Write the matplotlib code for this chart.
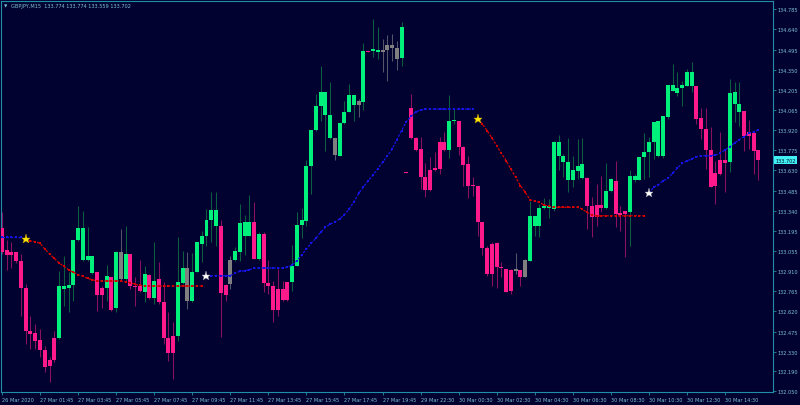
"""GBPJPY M15 candle chart with a trend-colored moving average and signal stars (MT4 look)."""

import matplotlib
matplotlib.use("Agg")
import matplotlib.pyplot as plt
import matplotlib.transforms as mtransforms
import numpy as np

SYMBOL = "GBPJPY,M15"
HEADER_OHLC = "133.774 133.774 133.559 133.702"
LAST_PRICE = 133.702

# bar index of the first candle (bar 0 = 27 Mar 01:45)
BAR_START = -8

OPENS = [
    133.215, 133.060, 133.048, 133.043, 132.983, 132.788, 132.482, 132.463,
    132.418, 132.344, 132.272, 132.430, 132.430, 132.781, 132.788, 132.809,
    133.134, 132.990, 132.990, 132.895, 132.900, 132.788, 132.788, 132.864,
    132.645, 133.043, 132.852, 133.031, 132.804, 132.804, 132.761, 132.883,
    132.714, 132.852, 132.685, 132.430, 132.446, 132.442, 132.824, 132.929,
    132.697, 132.904, 133.103, 133.158, 133.275, 133.230, 133.230, 132.809,
    132.986, 132.986, 133.048, 133.162, 133.162, 133.262, 132.995, 133.172,
    132.821, 132.804, 132.781, 132.781, 132.829, 132.833, 132.947, 133.239,
    133.270, 133.663, 133.919, 134.089, 134.029, 133.862, 133.862, 133.735,
    133.969, 134.046, 134.098, 134.125, 134.122, 134.485, 134.485, 134.475,
    134.494, 134.528, 134.528, 134.504, 134.432, 133.618, 134.077, 133.862,
    133.783, 133.585, 133.633, 133.645, 133.835, 133.835, 133.778, 133.981,
    133.986, 133.800, 133.676, 133.527, 133.520, 133.258, 133.074, 133.103,
    133.108, 132.940, 132.924, 132.919, 132.924, 132.917, 132.988, 132.983,
    133.234, 133.234, 133.361, 133.361, 133.353, 133.735, 133.688, 133.563,
    133.563, 133.628, 133.575, 133.575, 133.377, 133.382, 133.382, 133.361,
    133.484, 133.556, 133.325, 133.341, 133.334, 133.563, 133.563, 133.724,
    133.759, 133.831, 133.731, 133.731, 134.014, 134.196, 134.184, 134.220,
    134.236, 134.236, 134.236, 134.003, 133.926, 133.776, 133.611, 133.704,
    133.704, 133.688, 134.105, 134.050, 134.053, 133.903, 133.898, 133.774,
]
HIGHS = [
    133.330, 133.134, 133.115, 133.043, 133.031, 132.816, 132.589, 132.530,
    132.494, 132.375, 132.292, 132.482, 132.912, 133.019, 132.900, 133.134,
    133.377, 133.341, 133.222, 133.019, 132.900, 132.804, 132.952, 132.864,
    133.055, 133.210, 133.234, 133.031, 132.864, 132.990, 132.947, 132.888,
    133.115, 132.972, 132.829, 132.614, 132.542, 133.155, 133.055, 133.043,
    133.038, 133.115, 133.198, 133.353, 133.473, 133.477, 133.277, 132.816,
    133.019, 133.079, 133.389, 133.310, 133.454, 133.401, 133.187, 133.187,
    132.990, 132.840, 132.924, 132.840, 132.829, 133.096, 133.330, 133.358,
    133.706, 133.919, 134.177, 134.379, 134.189, 134.265, 133.862, 133.969,
    134.129, 134.248, 134.170, 134.141, 134.540, 134.485, 134.714, 134.657,
    134.571, 134.599, 134.606, 134.558, 134.690, 133.622, 134.177, 133.867,
    133.867, 133.683, 133.724, 133.759, 133.867, 133.907, 134.170, 134.069,
    133.986, 133.802, 133.735, 133.580, 133.520, 133.258, 133.091, 133.115,
    133.115, 132.972, 132.924, 132.924, 133.036, 132.917, 132.995, 133.413,
    133.305, 133.389, 133.432, 133.425, 133.842, 133.883, 133.747, 133.862,
    133.735, 133.855, 133.862, 133.580, 133.437, 133.532, 133.592, 133.683,
    133.573, 133.699, 133.373, 133.341, 133.635, 133.604, 133.728, 133.895,
    133.867, 133.974, 133.986, 134.021, 134.243, 134.392, 134.336, 134.272,
    134.356, 134.404, 134.236, 134.074, 134.074, 133.938, 133.699, 133.907,
    133.783, 134.284, 134.265, 134.261, 134.053, 133.993, 133.903, 133.774,
]
LOWS = [
    133.031, 132.917, 132.931, 132.967, 132.589, 132.387, 132.351, 132.351,
    132.292, 132.184, 132.113, 132.256, 132.423, 132.661, 132.614, 132.697,
    133.126, 132.983, 132.983, 132.888, 132.625, 132.642, 132.697, 132.625,
    132.618, 132.840, 132.840, 132.781, 132.661, 132.757, 132.685, 132.709,
    132.673, 132.673, 132.387, 132.267, 132.136, 132.410, 132.816, 132.637,
    132.685, 132.900, 132.972, 133.091, 133.119, 133.091, 132.439, 132.697,
    132.781, 132.983, 132.983, 133.024, 133.158, 132.995, 132.990, 132.761,
    132.745, 132.546, 132.589, 132.697, 132.697, 132.768, 132.947, 133.144,
    133.234, 133.461, 133.914, 133.986, 133.771, 133.855, 133.704, 133.735,
    133.962, 134.046, 133.986, 134.010, 134.064, 134.475, 134.442, 134.427,
    134.332, 134.272, 134.415, 134.349, 134.379, 133.608, 133.855, 133.771,
    133.497, 133.441, 133.484, 133.628, 133.604, 133.771, 133.716, 133.962,
    133.740, 133.520, 133.430, 133.449, 133.162, 133.024, 132.876, 132.804,
    132.786, 132.864, 132.757, 132.745, 132.888, 132.804, 132.864, 132.983,
    133.162, 133.151, 133.353, 133.287, 133.341, 133.635, 133.580, 133.477,
    133.509, 133.568, 133.568, 133.210, 133.151, 133.234, 133.330, 133.353,
    133.473, 133.222, 133.198, 133.008, 133.091, 133.545, 133.563, 133.568,
    133.580, 133.711, 133.724, 133.716, 133.998, 134.196, 134.165, 134.093,
    134.236, 134.189, 133.962, 133.855, 133.640, 133.509, 133.389, 133.597,
    133.473, 133.621, 133.974, 133.950, 133.771, 133.783, 133.604, 133.559,
]
CLOSES = [
    133.048, 133.026, 133.026, 132.979, 132.788, 132.482, 132.458, 132.410,
    132.344, 132.224, 132.227, 132.272, 132.804, 132.804, 132.809, 133.134,
    133.215, 133.215, 133.019, 133.019, 132.738, 132.738, 132.871, 132.632,
    133.043, 132.852, 133.031, 132.804, 132.797, 132.768, 132.888, 132.714,
    132.840, 132.685, 132.430, 132.320, 132.320, 132.829, 132.929, 132.697,
    132.904, 133.115, 133.158, 133.275, 133.346, 133.346, 132.752, 132.738,
    132.816, 133.053, 133.253, 133.258, 133.258, 132.995, 133.172, 132.821,
    132.800, 132.630, 132.630, 132.702, 132.702, 132.947, 133.239, 133.275,
    133.659, 133.919, 134.089, 134.189, 134.189, 134.029, 133.740, 133.969,
    134.046, 134.172, 134.170, 134.098, 134.483, 134.475, 134.499, 134.494,
    134.475, 134.494, 134.504, 134.427, 134.654, 133.611, 133.862, 133.778,
    133.580, 133.489, 133.489, 133.633, 133.640, 133.778, 133.986, 133.991,
    133.800, 133.671, 133.520, 133.520, 133.258, 133.074, 132.888, 132.888,
    132.940, 132.929, 132.761, 132.768, 132.912, 132.864, 132.864, 133.301,
    133.301, 133.361, 133.373, 133.375, 133.835, 133.835, 133.735, 133.688,
    133.635, 133.663, 133.676, 133.373, 133.294, 133.294, 133.361, 133.484,
    133.568, 133.318, 133.310, 133.318, 133.588, 133.588, 133.728, 133.759,
    133.831, 133.974, 133.981, 134.021, 134.243, 134.243, 134.220, 134.241,
    134.336, 134.336, 133.998, 133.926, 133.776, 133.513, 133.516, 133.604,
    133.681, 134.184, 134.189, 134.105, 133.874, 133.874, 133.771, 133.702,
]
# candle colour state from the indicator: u = bull, d = bear, n = neutral (grey)
STATES = [
    "dddddddd", "dddduuuu", "uuuuddud", "unudddud", "udddduun",
    "uuuuuudd", "nuuuudud", "ddddduuu", "uuuuuunu", "uuunuduu",
    "nnnnuddd", "dddddduu", "dddddddd", "ddddndnu", "uuuuuuuu",
    "uuuddddu", "uddduuuu", "uuuuuuuu", "uudddddd", "duuudddd",
]

# moving average value per bar, 8 bars per row
MA = [
    133.151, 133.151, 133.151, 133.151, 133.151, 133.139, 133.126, 133.119,
    133.108, 133.067, 133.031, 133.000, 132.967, 132.943, 132.919, 132.900,
    132.883, 132.871, 132.857, 132.847, 132.838, 132.838, 132.838, 132.838,
    132.838, 132.838, 132.831, 132.826, 132.814, 132.807, 132.804, 132.802,
    132.802, 132.802, 132.802, 132.802, 132.802, 132.802, 132.802, 132.802,
    132.802, 132.802, 132.802, 132.876, 132.876, 132.876, 132.876, 132.876,
    132.876, 132.895, 132.907, 132.912, 132.919, 132.929, 132.931, 132.931,
    132.931, 132.931, 132.931, 132.931, 132.936, 132.952, 132.983, 133.024,
    133.067, 133.108, 133.144, 133.187, 133.222, 133.246, 133.262, 133.282,
    133.313, 133.353, 133.406, 133.466, 133.512, 133.556, 133.597, 133.642,
    133.688, 133.733, 133.781, 133.850, 133.914, 133.979, 134.016, 134.050,
    134.062, 134.069, 134.069, 134.069, 134.069, 134.069, 134.069, 134.069,
    134.069, 134.069, 134.069, 134.069, 133.998, 133.962, 133.914, 133.862,
    133.807, 133.752, 133.699, 133.640, 133.580, 133.520, 133.473, 133.420,
    133.409, 133.401, 133.382, 133.373, 133.366, 133.366, 133.366, 133.366,
    133.366, 133.366, 133.353, 133.330, 133.312, 133.305, 133.305, 133.305,
    133.305, 133.305, 133.305, 133.305, 133.305, 133.305, 133.305, 133.305,
    133.466, 133.509, 133.527, 133.556, 133.573, 133.611, 133.647, 133.681,
    133.699, 133.711, 133.728, 133.735, 133.735, 133.735, 133.740, 133.754,
    133.776, 133.799, 133.826, 133.850, 133.871, 133.895, 133.907, 133.919,
]
MA_UP_RANGES = [(-8, -4), (35, 91), (128, 151)]
MA_DOWN_RANGES = [(-3, 34), (92, 127)]

# signal stars
SELL_BARS = [-3, 92]
SELL_PRICES = [133.139, 133.998]
BUY_BARS = [35, 128]
BUY_PRICES = [132.876, 133.466]

XTICK_BARS = [-8, 0, 8, 16, 24, 32, 40, 48, 56, 64, 72,
              80, 88, 96, 104, 112, 120, 128, 136, 144]
XTICK_LABELS = [
    "26 Mar 2020", "27 Mar 01:45", "27 Mar 03:45", "27 Mar 05:45",
    "27 Mar 07:45", "27 Mar 09:45", "27 Mar 11:45", "27 Mar 13:45",
    "27 Mar 15:45", "27 Mar 17:45", "27 Mar 19:45", "29 Mar 22:30",
    "30 Mar 00:30", "30 Mar 02:30", "30 Mar 04:30", "30 Mar 06:30",
    "30 Mar 08:30", "30 Mar 10:30", "30 Mar 12:30", "30 Mar 14:30",
]
YTICKS = [134.785, 134.640, 134.495, 134.350, 134.205, 134.065, 133.920,
          133.775, 133.630, 133.485, 133.340, 133.195, 133.055, 132.910,
          132.765, 132.620, 132.475, 132.330, 132.190, 132.050]

BG = "#020230"
FRAME = "#1f8ea6"
TEXT = "#7cc3d6"
STYLE = {
    "u": ("#00f07c", "#0b5e40"),
    "d": ("#ff1a8c", "#8a1060"),
    "n": ("#7f7f7f", "#55556a"),
}
MIN_BODY = 0.007


def draw_candles(ax):
    o = np.array(OPENS)
    h = np.array(HIGHS)
    lo = np.array(LOWS)
    c = np.array(CLOSES)
    x = np.arange(BAR_START, BAR_START + len(o))
    st = np.array(list("".join(STATES)))
    body_lo = np.minimum(o, c)
    body_h = np.maximum(np.abs(c - o), MIN_BODY)
    for key, (body_col, wick_col) in STYLE.items():
        m = st == key
        if not m.any():
            continue
        ax.vlines(x[m], lo[m], h[m], color=wick_col, lw=0.75, zorder=2)
        ax.bar(x[m], body_h[m], bottom=body_lo[m], width=0.84,
               color=body_col, linewidth=0, zorder=3)


def draw_ma(ax):
    ma = np.array(MA)
    for ranges, col in ((MA_UP_RANGES, "#1414e6"), (MA_DOWN_RANGES, "#d40000")):
        for a, b in ranges:
            xs = np.arange(a, b + 1)
            ys = ma[a - BAR_START: b - BAR_START + 1]
            ax.plot(xs, ys, color=col, lw=0.9, ls=(0, (2.0, 1.2)),
                    marker="s", ms=1.6, mew=0, zorder=5)
    ax.plot(SELL_BARS, SELL_PRICES, ls="none", marker="*", ms=6.5,
            color="#ffe600", mec="#c8a800", mew=0.3, zorder=6)
    ax.plot(BUY_BARS, BUY_PRICES, ls="none", marker="*", ms=6.5,
            color="#ffffff", mec="#9090a0", mew=0.3, zorder=6)


def main():
    plt.rcParams["font.family"] = ["DejaVu Sans"]
    fig = plt.figure(figsize=(8.0, 4.06), dpi=100, facecolor=BG)
    ax = fig.add_axes([1 / 800, 13 / 406, 772 / 800, 391 / 406], facecolor=BG)

    draw_candles(ax)
    draw_ma(ax)

    ax.set_xlim(-8.2, 154.09)
    ax.set_ylim(132.043, 134.843)

    for sp in ax.spines.values():
        sp.set_color(FRAME)
        sp.set_linewidth(0.8)

    ax.yaxis.tick_right()
    ax.set_yticks(YTICKS)
    ax.set_yticklabels([f"{v:.3f}" for v in YTICKS])
    ax.set_xticks(XTICK_BARS)
    ax.set_xticklabels(XTICK_LABELS)
    for lab in ax.get_xticklabels():
        lab.set_horizontalalignment("left")
    ax.tick_params(axis="both", direction="out", length=2.2, width=0.6,
                   color=FRAME, labelcolor=TEXT, labelsize=3.6, pad=1.2)

    # current price tag on the price scale
    trans = mtransforms.blended_transform_factory(ax.transAxes, ax.transData)
    ax.text(1.003, LAST_PRICE, f"{LAST_PRICE:.3f}", transform=trans,
            fontsize=3.6, color="#0a0a20", ha="left", va="center", zorder=10,
            bbox=dict(boxstyle="square,pad=0.3", fc="#40f0f4", ec="none"),
            clip_on=False)

    fig.text(4 / 800, 1 - 6.5 / 406, "\u25bc", fontsize=3.2, color=TEXT,
             ha="left", va="center")
    fig.text(11 / 800, 1 - 6.5 / 406, f"{SYMBOL}  {HEADER_OHLC}",
             fontsize=3.6, color=TEXT, ha="left", va="center")

    fig.savefig("out.png", dpi=100, facecolor=BG)
    plt.close(fig)


if __name__ == "__main__":
    main()
